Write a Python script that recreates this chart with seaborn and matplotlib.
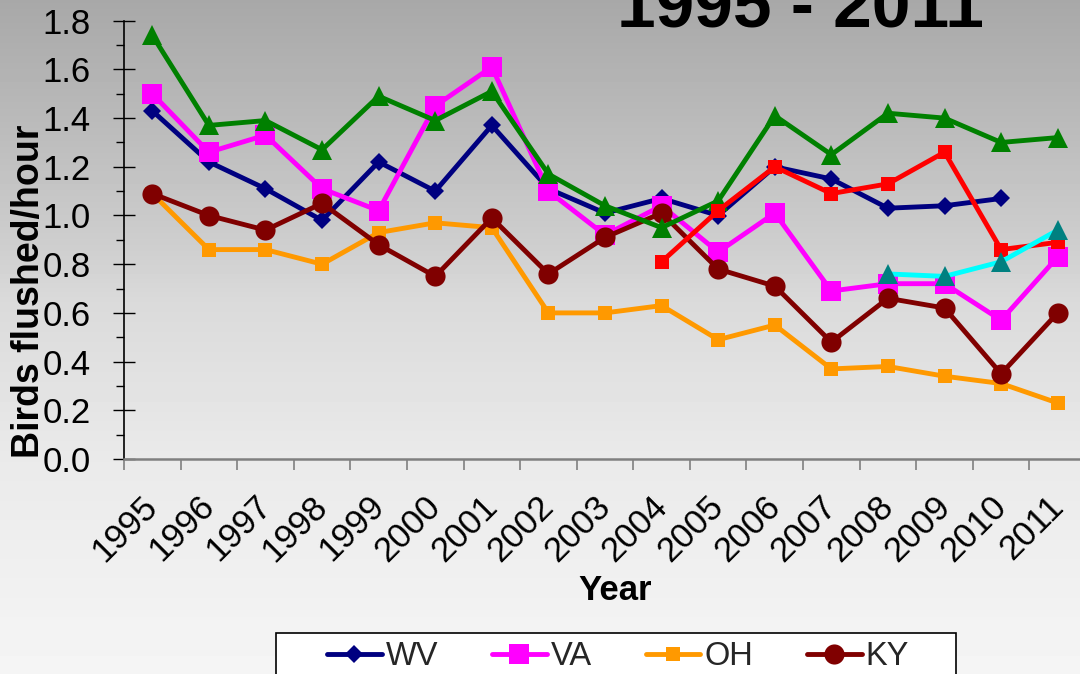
import numpy as np
import pandas as pd
import matplotlib
matplotlib.use("Agg")
import matplotlib.pyplot as plt
import matplotlib.transforms as mtransforms
from matplotlib.patches import Rectangle
from matplotlib.ticker import MultipleLocator, FixedLocator, FormatStrFormatter
import seaborn as sns

# ---------------- data ----------------
years = [str(y) for y in range(1995, 2012)]
nan = np.nan
wv = [1.43, 1.22, 1.11, 0.98, 1.22, 1.10, 1.37, 1.11, 1.01, 1.07, 1.00, 1.20, 1.15, 1.03, 1.04, 1.07, nan]
va = [1.50, 1.26, 1.33, 1.11, 1.02, 1.45, 1.61, 1.10, 0.92, 1.04, 0.85, 1.01, 0.69, 0.72, 0.72, 0.57, 0.83]
oh = [1.09, 0.86, 0.86, 0.80, 0.93, 0.97, 0.95, 0.60, 0.60, 0.63, 0.49, 0.55, 0.37, 0.38, 0.34, 0.31, 0.23]
ky = [1.09, 1.00, 0.94, 1.05, 0.88, 0.75, 0.99, 0.76, 0.91, 1.01, 0.78, 0.71, 0.48, 0.66, 0.62, 0.35, 0.60]
pa = [1.74, 1.37, 1.39, 1.27, 1.49, 1.39, 1.51, 1.17, 1.04, 0.95, 1.06, 1.41, 1.25, 1.42, 1.40, 1.30, 1.32]
nc = [nan] * 9 + [0.81, 1.02, 1.20, 1.09, 1.13, 1.26, 0.86, 0.89]
tn = [nan] * 13 + [0.76, 0.75, 0.81, 0.94]

series_names = ["WV", "VA", "OH", "KY", "PA", "NC", "TN"]
legend_names = ["WV", "VA", "OH", "KY"]   # the visible legend row
df = pd.DataFrame({"x": np.arange(len(years)), "Year": years,
                   "WV": wv, "VA": va, "OH": oh, "KY": ky,
                   "PA": pa, "NC": nc, "TN": tn})

# ---------------- style ----------------
sns.set_theme(style="ticks")
plt.rcParams["font.family"] = ["Liberation Sans", "DejaVu Sans"]

W, H = 1080, 674
fig = plt.figure(figsize=(W / 100, H / 100), dpi=100)

# gradient background
bg = fig.add_axes([0, 0, 1, 1], zorder=-10)
ys = np.arange(H)
g = np.interp(ys, [0, 120, 250, 300, 460, 674], [168, 186, 207, 218, 234, 245]) / 255.0
img = np.repeat(g[:, None], 2, axis=1)
bg.imshow(img, cmap="gray", vmin=0, vmax=1, aspect="auto", extent=[0, 1, 0, 1], origin="upper")
bg.axis("off")

left, right, top, bottom = 124, 1086, 20.7, 459
ax = fig.add_axes([left / W, 1 - bottom / H, (right - left) / W, (bottom - top) / H])
ax.set_facecolor("none")

styles = {
    "WV": dict(color="#000080", marker="D", markersize=9, mfc="#000080", mec="#000080"),
    "VA": dict(color="#FF00FF", marker="s", markersize=14, mfc="#FF00FF", mec="#FF00FF"),
    "OH": dict(color="#FF9900", marker="s", markersize=10, mfc="#FF9900", mec="#FF9900"),
    "KY": dict(color="#800000", marker="o", markersize=14.5, mfc="#800000", mec="#800000"),
    "PA": dict(color="#008000", marker="^", markersize=14, mfc="#008000", mec="#008000"),
    "NC": dict(color="#FF0000", marker="s", markersize=10, mfc="#FF0000", mec="#FF0000"),
    "TN": dict(color="#00FFFF", marker="^", markersize=14, mfc="#008080", mec="#008080"),
}

for name in series_names:
    st = styles[name]
    sns.lineplot(data=df, x="x", y=name, ax=ax, color=st["color"], marker=st["marker"],
                 markersize=st["markersize"], markerfacecolor=st["mfc"],
                 markeredgecolor=st["mec"], markeredgewidth=0, linewidth=3.5,
                 estimator=None, errorbar=None, sort=False, label=name)

handles, labels = ax.get_legend_handles_labels()
if ax.get_legend() is not None:
    ax.get_legend().remove()

ax.set_xlim(-0.5, len(years) - 0.5)
ax.set_ylim(0, 1.8)
ax.set_xlabel("")
ax.set_ylabel("")

# y axis ticks
ax.yaxis.set_major_locator(MultipleLocator(0.2))
ax.yaxis.set_minor_locator(MultipleLocator(0.1))
ax.yaxis.set_major_formatter(FormatStrFormatter("%.1f"))
ax.tick_params(axis="y", which="major", direction="inout", length=16, width=1,
               color="black", pad=16, labelsize=25, labelcolor="black")
ax.tick_params(axis="y", which="minor", direction="out", length=5.5, width=1, color="black")

# x axis ticks
ax.xaxis.set_major_locator(FixedLocator(np.arange(len(years))))
ax.set_xticklabels(years, rotation=45, ha="right", fontsize=25, color="black")
ax.xaxis.set_minor_locator(FixedLocator(np.arange(-0.5, len(years), 1.0)))
ax.tick_params(axis="x", which="major", length=0, pad=22)
ax.tick_params(axis="x", which="minor", direction="out", length=8, width=1.2, color="#808080")
offset = mtransforms.ScaledTranslation(12 / 100, 0, fig.dpi_scale_trans)
for lbl in ax.get_xticklabels():
    lbl.set_transform(lbl.get_transform() + offset)

sns.despine(ax=ax, top=True, right=True)
ax.spines["left"].set_color("black")
ax.spines["left"].set_linewidth(1.2)
ax.spines["bottom"].set_color("#808080")
ax.spines["bottom"].set_linewidth(1.8)

# texts
fig.text(800 / W, 1 - 28 / H, "1995 - 2011", ha="center", va="baseline",
         fontsize=50, fontweight="bold", color="black")
fig.text(29 / W, 1 - 291 / H, "Birds flushed/hour", rotation=90, ha="center", va="center",
         fontsize=27, fontweight="bold", color="black")
fig.text(615 / W, 1 - 600 / H, "Year", ha="center", va="baseline",
         fontsize=25, fontweight="bold", color="black")

# legend frame (extends beyond bottom of figure)
frame = Rectangle((276 / W, -0.1), 680 / W, (1 - 632.7 / H) + 0.1, transform=fig.transFigure,
                  facecolor="white", edgecolor="black", linewidth=1.2, zorder=2)
fig.patches.append(frame)

hmap = dict(zip(labels, handles))
leg = fig.legend([hmap[k] for k in legend_names], legend_names, ncol=4, loc="upper center",
                 bbox_to_anchor=(618 / W, 1 - 641 / H), frameon=False, fontsize=23.5,
                 handlelength=1.67, handletextpad=0.12, columnspacing=1.66,
                 borderpad=0, borderaxespad=0)
leg.set_zorder(5)

fig.savefig("out.png", dpi=100)
